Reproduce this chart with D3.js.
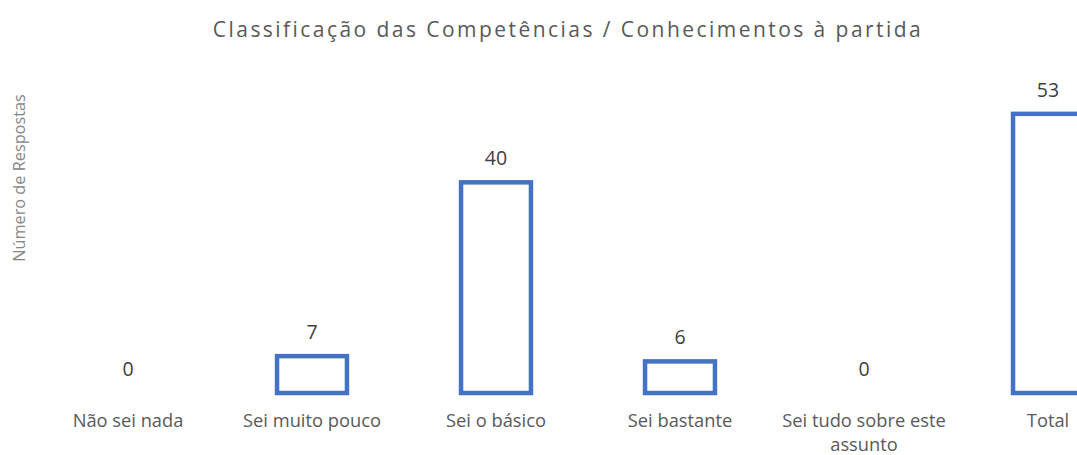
<!DOCTYPE html>
<html><head><meta charset="utf-8">
<script src="https://cdn.jsdelivr.net/npm/d3@7"></script>
<style>body{margin:0;background:#fff;overflow:hidden}svg{display:block}</style>
</head><body>
<svg id="c" width="1077" height="455"></svg>
<script>
const categories = [["Não sei nada"],["Sei muito pouco"],["Sei o básico"],["Sei bastante"],["Sei tudo sobre este","assunto"],["Total"]];
const values = [0, 7, 40, 6, 0, 53];
const title = "Classificação das Competências / Conhecimentos à partida";
const yTitle = "Número de Respostas";

const svg = d3.select("#c");
const font = "'Open Sans', 'Segoe UI', sans-serif";

const x = d3.scaleBand().domain(d3.range(categories.length)).range([36, 1140]).paddingInner(0.62).paddingOuter(0.31);
const y = d3.scaleLinear().domain([0, 60]).range([393, 77]);

svg.append("text").attr("x", 568).attr("y", 37).attr("text-anchor", "middle")
  .attr("font-family", font).attr("font-size", 21).attr("letter-spacing", 2.45).attr("fill", "#595959").text(title);

svg.append("text").attr("transform", "translate(25,178) rotate(-90)").attr("text-anchor", "middle")
  .attr("font-family", font).attr("font-size", 16.3).attr("fill", "#858585").text(yTitle);

const g = svg.append("g");
g.selectAll("rect").data(values.map((v, i) => ({v, i})).filter(d => d.v > 0)).join("rect")
  .attr("x", d => x(d.i))
  .attr("y", d => y(d.v)).attr("width", x.bandwidth()).attr("height", d => y(0) - y(d.v))
  .attr("fill", "none").attr("stroke", "#4472C4").attr("stroke-width", 4.5);

g.selectAll("text.v").data(values).join("text").attr("class", "v")
  .attr("x", (d, i) => x(i) + x.bandwidth() / 2).attr("y", d => y(d) - 24)
  .attr("dy", "0.35em").attr("text-anchor", "middle")
  .attr("font-family", font).attr("font-size", 19.5).attr("fill", "#404040").text(d => d);

const xa = g.selectAll("text.c").data(categories).join("text").attr("class", "c")
  .attr("x", (d, i) => x(i) + x.bandwidth() / 2).attr("y", 427)
  .attr("text-anchor", "middle").attr("font-family", font).attr("font-size", 18.3).attr("fill", "#595959");
xa.each(function(d){
  const t = d3.select(this);
  d.forEach((line, k) => t.append("tspan").attr("x", t.attr("x")).attr("dy", k ? 24 : 0).text(line));
});
</script>
</body></html>
